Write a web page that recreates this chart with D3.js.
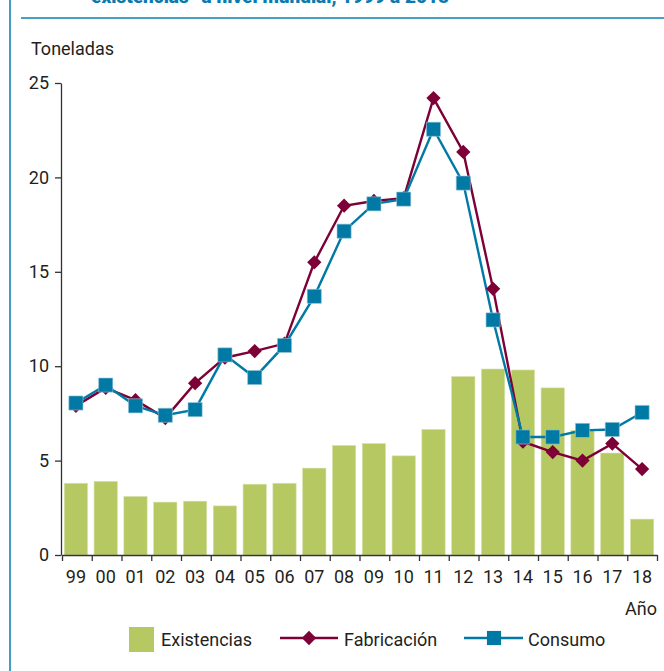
<!DOCTYPE html>
<html>
<head>
<meta charset="utf-8">
<script src="https://cdn.jsdelivr.net/npm/d3@7"></script>
<style>
  body { margin: 0; background: #fff; }
  svg text { font-family: Roboto, "Liberation Sans", sans-serif; fill: #231f20; }
</style>
</head>
<body>
<div id="chart"></div>
<script>
// datos
var anios = ["99","00","01","02","03","04","05","06","07","08","09","10","11","12","13","14","15","16","17","18"];
var existencias = [3.8, 3.9, 3.1, 2.8, 2.85, 2.6, 3.75, 3.8, 4.6, 5.8, 5.9, 5.25, 6.65, 9.45, 9.85, 9.8, 8.85, 6.6, 5.4, 1.9];
var fabricacion = [7.9, 8.85, 8.2, 7.25, 9.1, 10.45, 10.8, 11.2, 15.5, 18.5, 18.75, 18.9, 24.2, 21.35, 14.1, 6.0, 5.45, 5.0, 5.9, 4.55];
var consumo = [8.05, 9.0, 7.9, 7.4, 7.7, 10.6, 9.4, 11.1, 13.7, 17.15, 18.6, 18.85, 22.55, 19.7, 12.45, 6.25, 6.25, 6.6, 6.65, 7.55];
var yTicks = [0, 5, 10, 15, 20, 25];

var col_exist = "#b5c862", col_fab = "#7d0036", col_cons = "#0079a5", col_axis = "#333";

var W = 664, H = 671;
var x0 = 61, x1 = 657, yTop = 83, yBot = 555;

var svg = d3.select("#chart").append("svg")
    .attr("width", W)
    .attr("height", H);

// marco y titulo (cortado arriba, como en el original)
svg.append("line")
    .attr("x1", 10).attr("x2", 10).attr("y1", 0).attr("y2", H)
    .attr("stroke", "#0a7bb0").attr("stroke-width", 1.5);
svg.append("line")
    .attr("x1", 21).attr("x2", W).attr("y1", 18).attr("y2", 18)
    .attr("stroke", "#4a9fc4").attr("stroke-width", 2);
svg.append("text")
    .attr("x", 270).attr("y", 2.5)
    .attr("text-anchor", "middle")
    .style("font-size", "19px").style("font-weight", "900").style("fill", "#0a7bb0")
    .text("existencias\u201D a nivel mundial, 1999 a 2018");

var x = d3.scaleBand().domain(anios).range([x0, x1]).paddingInner(0.22).paddingOuter(0.11);
var y = d3.scaleLinear().domain([0, 25]).range([yBot, yTop]);

// barras
svg.append("g").selectAll("rect")
    .data(existencias)
    .join("rect")
    .attr("x", function(d, i) { return x(anios[i]); })
    .attr("y", function(d) { return y(d); })
    .attr("width", x.bandwidth())
    .attr("height", function(d) { return y(0) - y(d); })
    .attr("fill", col_exist)
    .attr("stroke", "#d6e0a6").attr("stroke-width", 0.6);

// ejes
svg.append("g").attr("transform", "translate(" + x0 + ",0)")
    .call(d3.axisLeft(y).tickValues(yTicks).tickSize(6).tickPadding(6).tickSizeOuter(0));
var xTickScale = d3.scaleLinear().domain([0, anios.length]).range([x0 + 1, x1]);
svg.append("g").attr("transform", "translate(0," + yBot + ")")
    .call(d3.axisBottom(xTickScale).tickValues(d3.range(anios.length + 1)).tickSize(6).tickFormat("").tickSizeOuter(0));
svg.append("g").attr("transform", "translate(0," + yBot + ")")
    .call(d3.axisBottom(x).tickSize(0).tickPadding(15))
    .call(function(g) { g.select(".domain").remove(); });

svg.selectAll(".domain").attr("stroke", col_axis).attr("stroke-width", 1.3);
svg.selectAll(".tick line").attr("stroke", col_axis).attr("stroke-width", 1.3);
svg.selectAll(".tick text").style("font-size", "18px").attr("fill", "#231f20");

svg.append("text").attr("x", 31).attr("y", 55).style("font-size", "18px").text("Toneladas");
svg.append("text").attr("x", 657).attr("y", 615).attr("text-anchor", "end").style("font-size", "18px").text("Año");

// lineas
var cx = function(i) { return x(anios[i]) + x.bandwidth() / 2; };
var line = d3.line().x(function(d, i) { return cx(i); }).y(function(d) { return y(d); });

svg.append("path").datum(fabricacion)
    .attr("d", line).attr("fill", "none").attr("stroke", col_fab).attr("stroke-width", 2.4);
svg.append("path").datum(consumo)
    .attr("d", line).attr("fill", "none").attr("stroke", col_cons).attr("stroke-width", 2.4);

var diamond = d3.symbol().type(d3.symbolDiamond2).size(130);
var square = d3.symbol().type(d3.symbolSquare).size(200);

svg.append("g").selectAll("path")
    .data(fabricacion).join("path")
    .attr("d", diamond)
    .attr("transform", function(d, i) { return "translate(" + cx(i) + "," + y(d) + ")"; })
    .attr("fill", col_fab);
svg.append("g").selectAll("path")
    .data(consumo).join("path")
    .attr("d", square)
    .attr("transform", function(d, i) { return "translate(" + cx(i) + "," + y(d) + ")"; })
    .attr("fill", col_cons)
    .attr("stroke", "#9cc7da").attr("stroke-width", 0.6);

// leyenda
var lg = svg.append("g");
lg.append("rect").attr("x", 129).attr("y", 627).attr("width", 25).attr("height", 25).attr("fill", col_exist);
lg.append("text").attr("x", 161).attr("y", 646).style("font-size", "18px").text("Existencias");

lg.append("line").attr("x1", 280).attr("x2", 338).attr("y1", 638).attr("y2", 638)
    .attr("stroke", col_fab).attr("stroke-width", 2.4);
lg.append("path").attr("d", diamond).attr("transform", "translate(309,638)").attr("fill", col_fab);
lg.append("text").attr("x", 344).attr("y", 646).style("font-size", "18px").text("Fabricación");

lg.append("line").attr("x1", 464).attr("x2", 523).attr("y1", 638).attr("y2", 638)
    .attr("stroke", col_cons).attr("stroke-width", 2.4);
lg.append("path").attr("d", square).attr("transform", "translate(494,638)").attr("fill", col_cons);
lg.append("text").attr("x", 528).attr("y", 646).style("font-size", "18px").text("Consumo");
</script>
</body>
</html>
